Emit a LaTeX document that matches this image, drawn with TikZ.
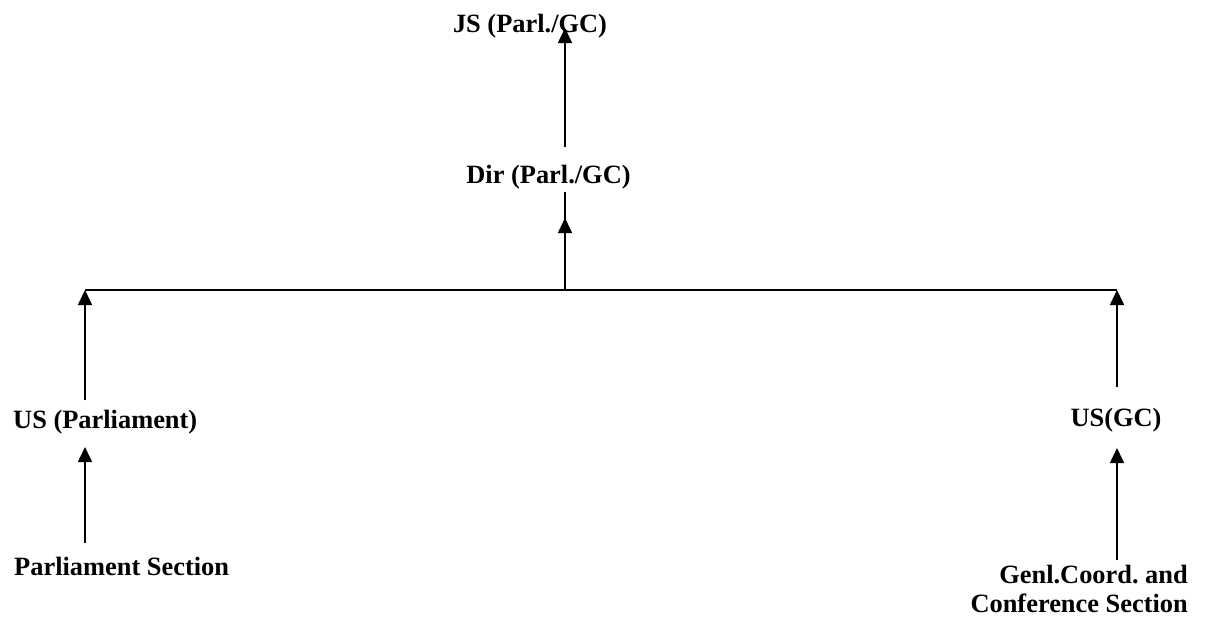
\documentclass[tikz,border=0pt]{standalone}
\usepackage{fontspec}
\setmainfont{Liberation Serif}
\usetikzlibrary{arrows.meta}
\frenchspacing
\begin{document}
\begin{tikzpicture}[x=1pt,y=1pt,
  lbl/.style={inner sep=0pt,font=\fontsize{26.4}{29}\selectfont\bfseries},
  conn/.style={line width=1.6pt},
  arr/.style={conn,-{Triangle[length=15pt,width=14pt]}}]
\useasboundingbox[fill=white] (0,0) rectangle (1209,-621);
% nodes
\node[lbl,anchor=base] (js) at (530,-32) {JS (Parl./GC)};
\node[lbl,anchor=base] (dir) at (548.5,-183) {Dir (Parl./GC)};
\node[lbl,anchor=base west] (usp) at (13,-428) {US (Parliament)};
\node[lbl,anchor=base west] (ps) at (14,-575) {Parliament Section};
\node[lbl,anchor=base] (usgc) at (1116,-426) {US(GC)};
\node[lbl,anchor=base east,align=right] (gcs) at (1188,-612) {Genl.Coord. and\\Conference Section};
% connector points
\coordinate (jsin) at (565,-28);
\coordinate (dirout) at (565,-147);
\coordinate (dirin) at (565,-218);
\coordinate (dirbot) at (565,-192);
\coordinate (barmid) at (565,-290);
\coordinate (barl) at (85,-290);
\coordinate (barr) at (1117,-290);
\coordinate (uspout) at (85,-400);
\coordinate (uspin) at (85,-447);
\coordinate (psout) at (85,-543);
\coordinate (usgcout) at (1117,-387);
\coordinate (usgcin) at (1117,-448);
\coordinate (gcsout) at (1117,-560);
% connectors
\draw[arr] (dirout) -- (jsin);
\draw[conn] (barmid) -- (dirbot);
\draw[arr] (barmid) -- (dirin);
\draw[conn] (barl) -- (barr);
\draw[arr] (uspout) -- (barl);
\draw[arr] (usgcout) -- (barr);
\draw[arr] (psout) -- (uspin);
\draw[arr] (gcsout) -- (usgcin);
\end{tikzpicture}
\end{document}
